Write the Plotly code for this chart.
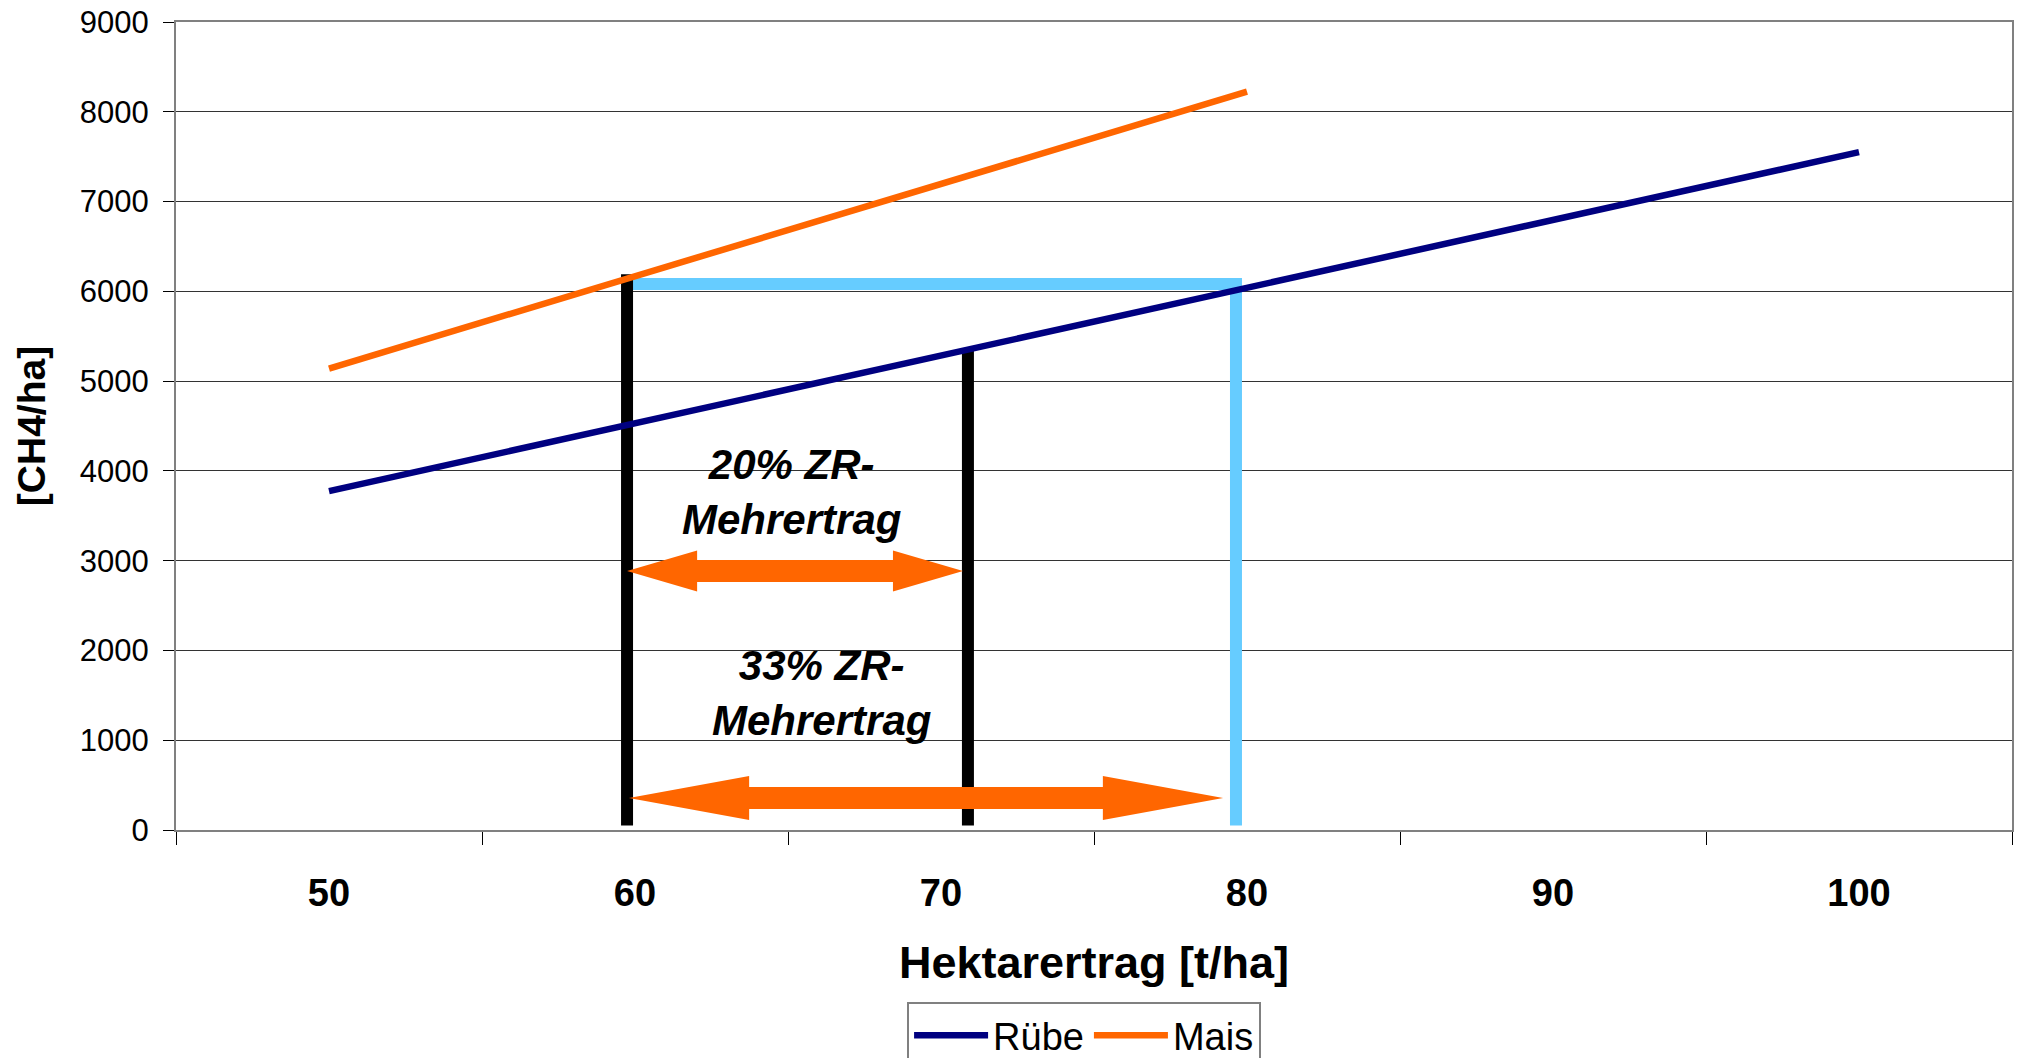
import plotly.graph_objects as go

# ---- data ----
ertrag = [50, 60, 70, 80, 90, 100]
tick_labels = ["50", "60", "70", "80", "90", "100"]
ruebe = [3775, 4530, 5285, 6040, 6795, 7550]
mais_x = [50, 60, 70, 80]
mais = [5140, 6168, 7196, 8224]

# ---- annotation geometry (data units) ----
black_x = [59.74, 70.88]
black_top = [6190, 5350]
bottom_y = 50
blue_x = 79.64
blue_y = 6081
arrow1 = dict(x0=59.74, x1=70.72, y=2885, head=2.29, shaft=122, headh=228)
arrow2 = dict(x0=59.80, x1=79.22, y=356, head=3.93, shaft=122, headh=245)

FONT = "Arial, Liberation Sans, sans-serif"
NAVY = "#000080"
ORANGE = "#FF6600"
LBLUE = "#66CCFF"

fig = go.Figure()
fig.add_trace(go.Scatter(x=ertrag, y=ruebe, mode="lines", name="Rübe",
                         line=dict(color=NAVY, width=6.5)))
fig.add_trace(go.Scatter(x=mais_x, y=mais, mode="lines", name="Mais",
                         line=dict(color=ORANGE, width=6.5)))

shapes = []
# light blue bracket
shapes.append(dict(type="path", xref="x", yref="y", layer="between",
                   path=f"M{black_x[0]},{blue_y} L{blue_x},{blue_y} L{blue_x},{bottom_y}",
                   line=dict(color=LBLUE, width=12)))
# black verticals
for bx, bt in zip(black_x, black_top):
    shapes.append(dict(type="line", xref="x", yref="y", layer="between",
                       x0=bx, x1=bx, y0=bottom_y, y1=bt,
                       line=dict(color="black", width=12)))


def arrow_path(a):
    x0, x1, y, h, s, hh = a["x0"], a["x1"], a["y"], a["head"], a["shaft"], a["headh"]
    pts = [(x0, y), (x0 + h, y + hh), (x0 + h, y + s), (x1 - h, y + s), (x1 - h, y + hh),
           (x1, y), (x1 - h, y - hh), (x1 - h, y - s), (x0 + h, y - s), (x0 + h, y - hh)]
    return "M" + " L".join(f"{px},{py}" for px, py in pts) + " Z"


for a in (arrow1, arrow2):
    shapes.append(dict(type="path", xref="x", yref="y", layer="above",
                       path=arrow_path(a), fillcolor=ORANGE, line=dict(width=0)))

fig.update_layout(shapes=shapes)

fig.add_annotation(x=65.13, y=3760, xref="x", yref="y", showarrow=False,
                   text="<b><i>20% ZR-</i></b><br><b><i>Mehrertrag</i></b>",
                   font=dict(family=FONT, size=42, color="black"), align="center")
fig.add_annotation(x=66.08, y=1530, xref="x", yref="y", showarrow=False,
                   text="<b><i>33% ZR-</i></b><br><b><i>Mehrertrag</i></b>",
                   font=dict(family=FONT, size=42, color="black"), align="center")

fig.update_layout(
    width=2018, height=1058,
    margin=dict(l=176, r=6, t=22, b=228, autoexpand=False),
    paper_bgcolor="white", plot_bgcolor="white",
    font=dict(family=FONT, color="black"),
    showlegend=True,
    legend=dict(orientation="h", x=0.4946, xanchor="center", y=-0.213, yanchor="top",
                bordercolor="#808080", borderwidth=2, bgcolor="white",
                font=dict(family=FONT, size=38), itemwidth=74, tracegroupgap=0),
    xaxis=dict(range=[45, 105], tickmode="array", tickvals=ertrag, ticktext=tick_labels,
               ticks="", showgrid=False, zeroline=False, automargin=False,
               showline=True, linecolor="#808080", linewidth=2, mirror=True,
               tickfont=dict(family=FONT, size=38, weight="bold"),
               ticklabelstandoff=28,
               minor=dict(tickmode="array", tickvals=[45, 55, 65, 75, 85, 95, 105],
                          ticks="outside", ticklen=13, tickwidth=1, tickcolor="black",
                          showgrid=False),
               title=dict(text="<b>Hektarertrag [t/ha]</b>", font=dict(family=FONT, size=45),
                          standoff=34)),
    yaxis=dict(range=[0, 9000], tickmode="linear", tick0=0, dtick=1000,
               ticks="outside", ticklen=11, tickwidth=1, tickcolor="black",
               showgrid=True, gridcolor="#333333", gridwidth=1, zeroline=False,
               showline=True, linecolor="#808080", linewidth=2, mirror=True,
               automargin=False,
               tickfont=dict(family=FONT, size=31), ticklabelstandoff=8,
               title=dict(text="<b>[CH4/ha]</b>", font=dict(family=FONT, size=39),
                          standoff=22)),
)

fig.write_html("out.html", config={"displayModeBar": False},
               post_script="document.body.style.margin='0';")
